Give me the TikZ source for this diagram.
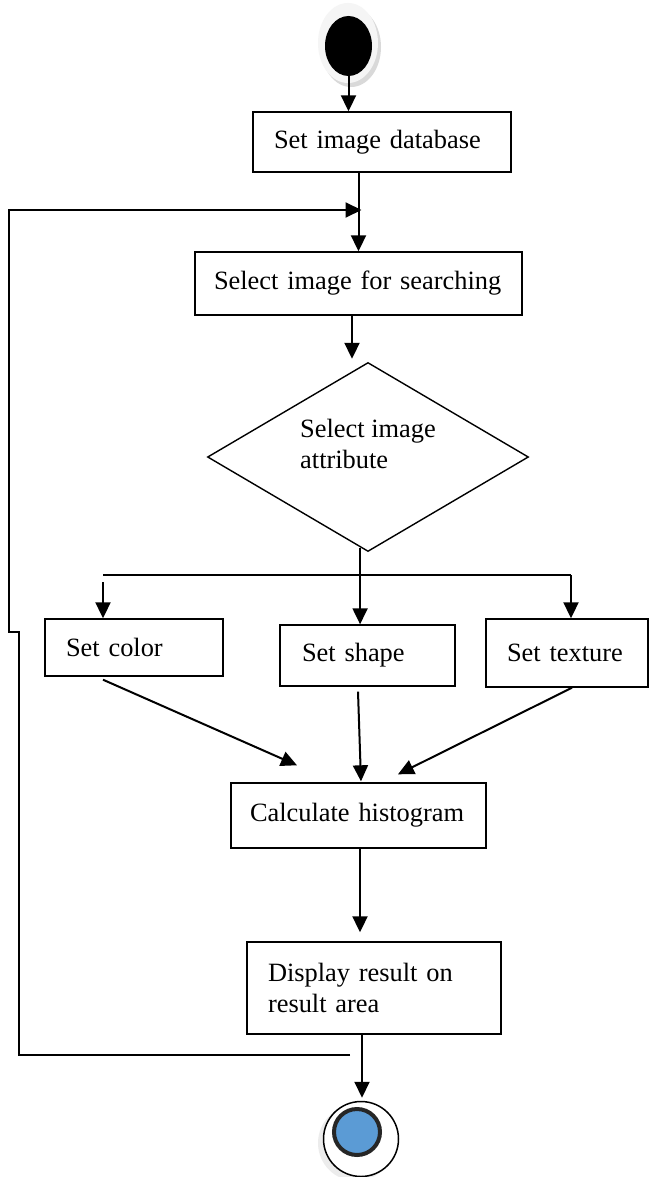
\documentclass[tikz,border=0pt]{standalone}
\usepackage{fontspec}
\setmainfont{Liberation Serif}
\usetikzlibrary{arrows.meta,shapes.geometric,calc}
\definecolor{endblue}{HTML}{5B9BD5}
\begin{document}
\begin{tikzpicture}[x=1pt,y=-1pt,
  conn/.style={line width=2pt},
  arr/.style={conn,-{Triangle[length=16pt,width=15pt]}},
  txt/.style={font=\fontsize{26.4}{31}\selectfont},
  box/.style={draw, line width=1.4pt, inner ysep=0pt, align=left, txt},
  ]
\fill[white] (0,0) rectangle (648,1177);
\useasboundingbox (0,0) rectangle (648,1177);

% start node
\fill[gray!30] (351,47) ellipse [x radius=30pt, y radius=40pt];
\fill[gray!8] (348,43) ellipse [x radius=30pt, y radius=40pt];
\node[ellipse, fill=black, minimum width=47pt, minimum height=60pt, inner sep=0pt] (start) at (348.5,46) {};

% boxes
\node[box, minimum width=258pt, minimum height=60pt, inner xsep=21pt, text width=216pt] (db) at (382,142) {Set image database};
\node[box, minimum width=327pt, minimum height=63pt, inner xsep=19pt, text width=289pt] (sel) at (358.5,283.5) {Select image for searching};
\node[diamond, draw, line width=1.4pt, minimum width=321pt, minimum height=189pt, inner sep=0pt, txt] (att) at (368,457) {\raisebox{4pt}[0pt][0pt]{\begin{tabular}{@{}l@{}}Select image\\attribute\end{tabular}}};
\node[box, minimum width=178pt, minimum height=57pt, inner xsep=21pt, text width=136pt] (color) at (134,647.5) {Set color};
\node[box, minimum width=175pt, minimum height=61pt, inner xsep=22pt, text width=131pt] (shape) at (367.5,655.5) {Set shape};
\node[box, minimum width=162pt, minimum height=68pt, inner xsep=21pt, text width=120pt] (texture) at (567,653) {Set texture};
\node[box, minimum width=255pt, minimum height=65pt, inner xsep=19pt, text width=217pt] (calc) at (358.5,815.5) {Calculate histogram};
\node[box, minimum width=254pt, minimum height=92pt, inner xsep=21pt, text width=212pt] (disp) at (374,988) {Display result on\\result area};

% end node
\fill[gray!15] (356,1143) circle[radius=38pt];
\node[circle, draw, line width=1.5pt, fill=white, minimum size=75pt, inner sep=0pt] (stop) at (361,1139) {};
\node[circle, draw=black!85, line width=4pt, fill=endblue, minimum size=46pt, inner sep=0pt] (stopin) at (357,1132) {};

% connectors
\draw[arr] (start.south) -- (start.south |- db.north);
\draw[arr] (sel.north |- db.south) -- (sel.north);
\coordinate (loopA) at (350,1055);
\coordinate (loopB) at (19,632);
\coordinate (loopC) at (9,210);
\draw[arr] (loopA) -| (loopB) -- (loopC |- loopB) -- (loopC) -- ($(sel.north |- loopC)+(3,0)$);
\draw[arr] ($(sel.south)+(-6.5,0)$) -- ($(att.north)+(-16,-3)$);
\draw[arr] (att.-95) -- (att.-95 |- shape.north);
\coordinate (barL) at (103,575);
\coordinate (barR) at (571,575);
\draw[conn] (barL) -- (barR);
\draw[arr] (barR) -- (barR |- texture.north);
\draw[arr] ($(barL)+(0,7)$) -- (barL |- color.north);
\draw[arr] ($(color.south)+(-31,3)$) -- ($(calc.north)+(-61.5,-17)$);
\draw[arr] ($(shape.south)+(-9.5,5)$) -- ($(calc.north)+(2.5,-1)$);
\draw[arr] ($(texture.south)+(5,0)$) -- ($(calc.north)+(39.5,-8)$);
\draw[arr] ($(calc.south)+(1.5,0)$) -- ($(calc.south |- disp.north)+(1.5,-9)$);
\draw[arr] ($(disp.south)+(-12,0)$) -- ($(stop.north)+(1,-3)$);
\end{tikzpicture}
\end{document}
